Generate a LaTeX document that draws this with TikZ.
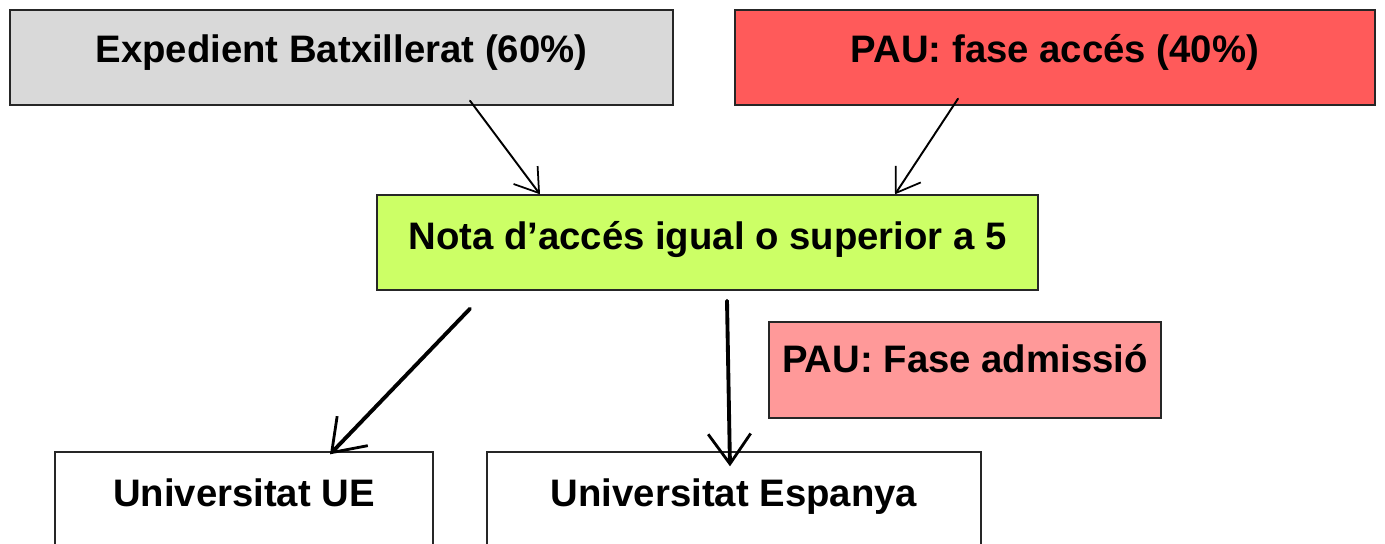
\documentclass[tikz,border=0pt]{standalone}
\usepackage{fontspec}
\setmainfont{Liberation Sans}
\usetikzlibrary{arrows.meta}

\definecolor{grisbox}{RGB}{217,217,217}
\definecolor{vermell}{RGB}{255,90,90}
\definecolor{verd}{RGB}{204,255,102}
\definecolor{rosa}{RGB}{255,153,153}

\begin{document}
\begin{tikzpicture}[
  box/.style={draw=black!85, line width=0.8pt, minimum height=1.9cm, inner sep=0pt,
    font=\bfseries\fontsize{21.8}{26}\selectfont, text height=0.55cm},
  fletxa/.style={line width=1.1pt, line cap=round, -{Straight Barb[length=0.45cm,width=0.6cm,line width=1pt]}},
  fletxagran/.style={line width=2.2pt, line cap=round, -{Straight Barb[length=0.6cm,width=0.85cm,line width=1.6pt]}}
]

\useasboundingbox (0,0) rectangle (27.7,-10.88);

\node[box, fill=grisbox, minimum width=13.26cm, text depth=0.34cm] (exp) at (6.83,-1.15) {Expedient Batxillerat (60\%)};
\node[box, fill=vermell, minimum width=12.8cm, text depth=0.34cm] (pau) at (21.1,-1.15) {PAU: fase accés (40\%)};
\node[box, fill=verd, minimum width=13.22cm, text depth=0.26cm] (nota) at (14.15,-4.85) {Nota d’accés igual o superior a 5};
\node[box, fill=rosa, minimum width=7.84cm, minimum height=1.92cm, text depth=0.44cm] (adm) at (19.3,-7.4) {PAU: Fase admissió};
\node[box, fill=white, minimum width=7.56cm, text depth=0.26cm] (ue) at (4.88,-9.99) {Universitat UE};
\node[box, fill=white, minimum width=9.88cm, text depth=0.26cm] (esp) at (14.68,-9.99) {Universitat Espanya};

\draw[fletxa] ([shift={(2.57,0.1)}]exp.south) -- ([xshift=-3.35cm]nota.north);
\draw[fletxa] ([shift={(-1.94,0.14)}]pau.south) -- ([xshift=3.75cm]nota.north);
\draw[fletxagran] ([shift={(-4.75,-0.36)}]nota.south) -- ([shift={(1.72,-0.06)}]ue.north);
\draw[fletxagran] ([shift={(0.39,-0.2)}]nota.south) -- ([shift={(-0.08,-0.3)}]esp.north);

\end{tikzpicture}
\end{document}
